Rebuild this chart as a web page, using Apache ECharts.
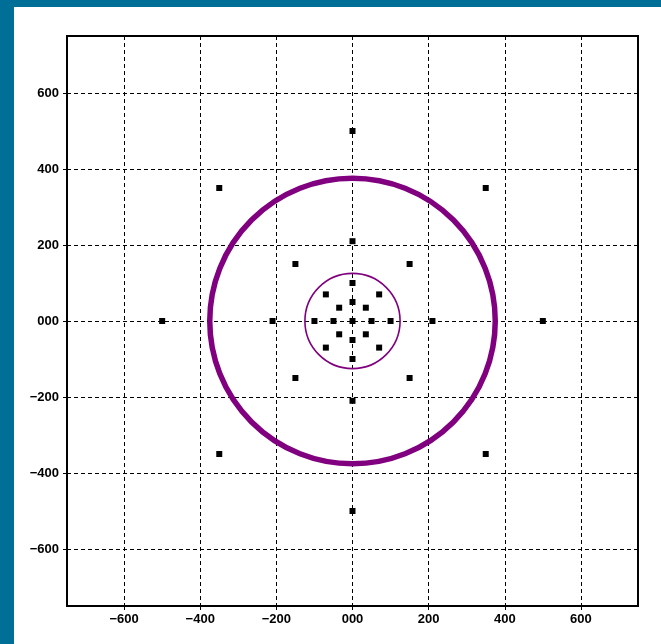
<!DOCTYPE html>
<html>
<head>
<meta charset="utf-8">
<script src="https://cdn.jsdelivr.net/npm/echarts@6/dist/echarts.min.js"></script>
<style>
  html, body { margin: 0; padding: 0; background: #fff; }
  #chart { width: 661px; height: 644px; }
  .band { position: absolute; background: #006f98; z-index: 10; }
</style>
</head>
<body>
<div class="band" style="left:0;top:0;width:661px;height:7px"></div>
<div class="band" style="left:0;top:0;width:14px;height:644px"></div>
<div id="chart"></div>
<script>
// axis range (same for x and y)
const axisMin = -750;
const axisMax = 750;

// black square points
const pointX = [0, 0, 500, -500, 350, -350, 350, -350, 0, 0, 210, -210,
  150, -150, 150, -150, 0, 0, 100, -100, 70, -70, 70, -70, 0, 0, 50, -50,
  35, -35, 35, -35, 0];
const pointY = [500, -500, 0, 0, 350, 350, -350, -350, 210, -210, 0, 0,
  150, 150, -150, -150, 100, -100, 0, 0, 70, 70, -70, -70, 50, -50, 0, 0,
  35, 35, -35, -35, 0];

// circles: centre and radius
const outerCircle = [0, 0, 375];
const innerCircle = [0, 0, 125];

function fmt(v) {
  const s = String(Math.abs(v)).padStart(3, "0");
  return v < 0 ? "\u2212" + s : s;
}

const labelStyle = {
  color: "#000",
  fontFamily: "Liberation Sans",
  fontSize: 13,
  fontWeight: "bold",
  formatter: fmt,
  showMinLabel: false,
  showMaxLabel: false,
};

function makeAxis(margin) {
  return {
    type: "value",
    min: axisMin,
    max: axisMax,
    splitNumber: 7,
    axisLine: { show: true, onZero: false, lineStyle: { color: "#000", width: 2 } },
    axisTick: { show: true, length: 4, lineStyle: { color: "#000" } },
    axisLabel: Object.assign({ margin: margin }, labelStyle),
    splitLine: {
      show: true,
      lineStyle: { color: "#000", type: [4, 3], width: 1 },
    },
  };
}

function circleSeries(c, width) {
  return {
    type: "custom",
    data: [c],
    encode: { x: 0, y: 1 },
    silent: true,
    z: 2,
    renderItem: function (params, api) {
      const p = api.coord([api.value(0), api.value(1)]);
      const r = api.size([api.value(2), 0])[0];
      return {
        type: "circle",
        shape: { cx: p[0], cy: p[1], r: r },
        style: { fill: "none", stroke: "#800080", lineWidth: width },
      };
    },
  };
}

let myChart = echarts.init(document.getElementById("chart"));
const options = {
  animation: false,
  backgroundColor: "#fff",
  grid: {
    left: 67,
    right: 23,
    top: 36,
    bottom: 38,
    show: true,
    borderColor: "#000",
    borderWidth: 2,
  },
  xAxis: makeAxis(7),
  yAxis: makeAxis(8),
  series: [
    circleSeries(outerCircle, 5.5),
    circleSeries(innerCircle, 1.6),
    {
      type: "scatter",
      symbol: "rect",
      symbolSize: 6,
      z: 3,
      itemStyle: { color: "#000", opacity: 1 },
      data: pointX.map((x, i) => [x, pointY[i]]),
    },
  ],
};
myChart.setOption(options);
</script>
</body>
</html>
